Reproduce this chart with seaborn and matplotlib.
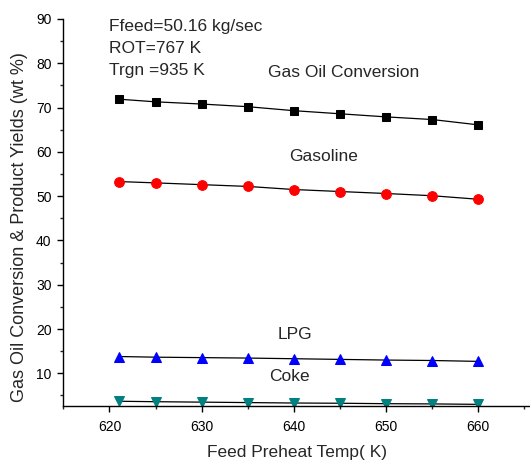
import matplotlib
matplotlib.use("Agg")
import matplotlib.pyplot as plt
import seaborn as sns
import pandas as pd
from matplotlib.ticker import MultipleLocator

temps = [621, 625, 630, 635, 640, 645, 650, 655, 660]
conversion = [71.9, 71.3, 70.8, 70.2, 69.3, 68.6, 67.9, 67.3, 66.1]
gasoline = [53.3, 53.0, 52.6, 52.2, 51.5, 51.05, 50.6, 50.1, 49.3]
lpg = [13.8, 13.65, 13.55, 13.45, 13.3, 13.15, 13.0, 12.9, 12.7]
coke = [3.7, 3.6, 3.5, 3.4, 3.3, 3.25, 3.15, 3.1, 3.0]

series_names = ["Gas Oil Conversion", "Gasoline", "LPG", "Coke"]
series_values = [conversion, gasoline, lpg, coke]

sns.set_style("ticks")
plt.rcParams['font.family'] = ['Liberation Sans', 'DejaVu Sans']

fig = plt.figure(figsize=(5.30, 4.61), dpi=100)
ax = fig.add_axes([0.1195, 0.120, 0.8805, 0.8388])

styles = [
    dict(marker="s", markerfacecolor="black", markeredgecolor="black", markersize=6),
    dict(marker="o", markerfacecolor="#ff0000", markeredgecolor="#ff0000", markersize=7),
    dict(marker="^", markerfacecolor="#0000ff", markeredgecolor="#0000ff", markersize=7.5),
    dict(marker="v", markerfacecolor="#008080", markeredgecolor="#008080", markersize=7.5),
]

for name, vals, st in zip(series_names, series_values, styles):
    df = pd.DataFrame({"T": temps, "Y": vals})
    sns.lineplot(data=df, x="T", y="Y", ax=ax, color="black", linewidth=0.9, **st)

ax.set_xlim(615, 665.6)
ax.set_ylim(2.7, 90)
ax.xaxis.set_major_locator(MultipleLocator(10))
ax.xaxis.set_minor_locator(MultipleLocator(5))
ax.yaxis.set_major_locator(MultipleLocator(10))
ax.yaxis.set_minor_locator(MultipleLocator(5))
ax.set_yticks(range(10, 91, 10))
ax.tick_params(axis="both", which="major", labelsize=10, length=4.5, width=1, direction="out", colors="black")
ax.tick_params(axis="x", which="major", pad=6)
ax.tick_params(axis="y", which="major", pad=4)
ax.tick_params(axis="both", which="minor", length=2.5, width=1, direction="out")
sns.despine(ax=ax)
for s in ["left", "bottom"]:
    ax.spines[s].set_linewidth(1.0)
    ax.spines[s].set_color("black")

ax.set_xlabel("Feed Preheat Temp( K)", fontsize=12.5, labelpad=8)
ax.set_ylabel("Gas Oil Conversion & Product Yields (wt %)", fontsize=13)
ax.yaxis.set_label_coords(-0.075, 0.462)

ax.text(620.0, 88.4, "Ffeed=50.16 kg/sec", fontsize=12.5, va="center", ha="left")
ax.text(620.0, 83.4, "ROT=767 K", fontsize=12.5, va="center", ha="left")
ax.text(620.0, 78.4, "Trgn =935 K", fontsize=12.5, va="center", ha="left")

ax.text(645.4, 78.0, "Gas Oil Conversion", fontsize=12.5, va="center", ha="center")
ax.text(643.2, 59.0, "Gasoline", fontsize=12.5, va="center", ha="center")
ax.text(640.1, 18.8, "LPG", fontsize=12.5, va="center", ha="center")
ax.text(639.5, 9.2, "Coke", fontsize=12.5, va="center", ha="center")

fig.savefig("out.png", dpi=100)
